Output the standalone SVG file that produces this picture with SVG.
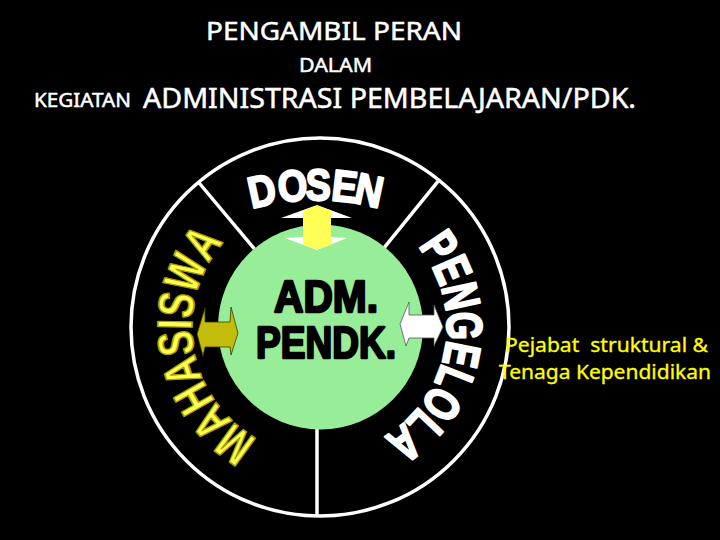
<svg xmlns="http://www.w3.org/2000/svg" width="720" height="540" viewBox="0 0 720 540">
  <style>
    .title { font-family: "Noto Sans", "Liberation Sans", sans-serif; fill: #ffffff; stroke: #ffffff; stroke-width: 0.5; }
    .side { font-family: "Noto Sans", "Liberation Sans", sans-serif; fill: #ffff00; stroke: #ffff00; stroke-width: 0.3; font-size: 19px; white-space: pre; }
    .ring { fill: none; stroke: #ffffff; stroke-width: 3.5; }
    .div { stroke: #ffffff; stroke-width: 3.5; }
    .cw { font-family: "Liberation Sans", Arial, sans-serif; font-weight: bold; text-anchor: middle; stroke-linejoin: round; }
    .mh { font-size: 50px; fill: #ffff50; stroke: #a89e00; stroke-width: 1.6; }
    .pg { font-size: 50px; fill: #ffffff; stroke: #ffffff; stroke-width: 2.2; }
    .ds { font-size: 44px; fill: #ffffff; stroke: #ffffff; stroke-width: 2.2; }
    .adm { font-family: "Liberation Sans", Arial, sans-serif; font-weight: bold; font-size: 44px; fill: #000000; stroke: #000000; stroke-width: 2.4; stroke-linejoin: round; text-anchor: middle; }
  </style>
  <rect x="0" y="0" width="720" height="540" fill="#000000"/>

  <g id="title">
    <text class="title" x="206" y="40" font-size="25" textLength="256" lengthAdjust="spacingAndGlyphs">PENGAMBIL PERAN</text>
    <text class="title" x="299" y="72" font-size="20" textLength="73" lengthAdjust="spacingAndGlyphs">DALAM</text>
    <text class="title" x="34" y="107" font-size="19" textLength="97" lengthAdjust="spacingAndGlyphs">KEGIATAN</text>
    <text class="title" x="143" y="108" font-size="28" textLength="493" lengthAdjust="spacingAndGlyphs">ADMINISTRASI PEMBELAJARAN/PDK.</text>
  </g>

  <g id="ring">
    <circle class="ring" cx="320" cy="327" r="189"/>
    <line class="div" x1="254.4" y1="248.9" x2="197.9" y2="181.5"/>
    <line class="div" x1="384.2" y1="247.7" x2="439.6" y2="179.4"/>
    <line class="div" x1="317" y1="428" x2="317" y2="517"/>
  </g>

  <g id="adm">
    <circle cx="320.5" cy="327" r="102.5" fill="#98ee98"/>
    <text class="adm" x="326" y="312" textLength="104" lengthAdjust="spacingAndGlyphs">ADM.</text>
    <text class="adm" x="326" y="358" textLength="140" lengthAdjust="spacingAndGlyphs">PENDK.</text>
  </g>

  <g id="dosen" class="cw ds">
    <text transform="translate(265,205.5) rotate(-12.3) scale(0.86,1)">D</text>
    <text transform="translate(294,201) rotate(-5.3) scale(0.86,1)">O</text>
    <text transform="translate(318,200) rotate(0.5) scale(0.86,1)">S</text>
    <text transform="translate(343,201.5) rotate(6.5) scale(0.86,1)">E</text>
    <text transform="translate(366,205.3) rotate(12) scale(0.86,1)">N</text>
  </g>

  <g id="mahasiswa" class="cw mh">
    <text transform="translate(244.8,430.6) rotate(216) scale(0.74,1)">M</text>
    <text transform="translate(223.9,411.5) rotate(228.65) scale(0.74,1)">A</text>
    <text transform="translate(208.7,390.2) rotate(240.4) scale(0.74,1)">H</text>
    <text transform="translate(198.2,366.3) rotate(252.14) scale(0.74,1)">A</text>
    <text transform="translate(192.8,341.6) rotate(263.44) scale(0.74,1)">S</text>
    <text transform="translate(192.0,324.5) rotate(271.13) scale(0.74,1)">I</text>
    <text transform="translate(193.5,307.4) rotate(278.82) scale(0.74,1)">S</text>
    <text transform="translate(201.3,279.2) rotate(291.92) scale(0.74,1)">W</text>
    <text transform="translate(215.8,252.7) rotate(305.48) scale(0.74,1)">A</text>
  </g>

  <g id="pengelola" class="cw pg">
    <text transform="translate(425.3,256.0) rotate(56) scale(0.72,1)">P</text>
    <text transform="translate(436.6,276.6) rotate(66.62) scale(0.72,1)">E</text>
    <text transform="translate(444.1,299.9) rotate(77.67) scale(0.72,1)">N</text>
    <text transform="translate(447.0,326.1) rotate(89.61) scale(0.72,1)">G</text>
    <text transform="translate(444.6,351.5) rotate(101.12) scale(0.72,1)">E</text>
    <text transform="translate(438.3,373.1) rotate(111.29) scale(0.72,1)">L</text>
    <text transform="translate(427.3,395.0) rotate(122.35) scale(0.72,1)">O</text>
    <text transform="translate(412.3,414.3) rotate(133.4) scale(0.72,1)">L</text>
    <text transform="translate(394.6,429.8) rotate(144.01) scale(0.72,1)">A</text>
  </g>

  <g id="pejabat">
    <text class="side" x="505" y="352" textLength="203" lengthAdjust="spacingAndGlyphs">Pejabat  struktural &amp;</text>
    <text class="side" x="499" y="379" textLength="212" lengthAdjust="spacingAndGlyphs">Tenaga Kependidikan</text>
  </g>

  <g id="connectors">
    <polygon points="317,205 352,218 331,218 331,237 347,238 317,250 285,238 303,237 303,218 281,218" fill="#ffffff"/>
    <polygon points="303,210.5 317,205.5 331,210.5 331,245 317,249 303,245" fill="#ffff55"/>
    <polygon points="197,334 205,308 205,322 230,322 231,307 238,333 231,355 230,347 205,347 203,356" fill="#c4bc0a" stroke="#3a3a00" stroke-width="0.8"/>
    <polygon points="400,324 409,302 409,315 434,315 434,305 443,327 434,346 434,338 409,338 406,346" fill="#ffffff" stroke="#555555" stroke-width="0.8"/>
  </g>
</svg>
